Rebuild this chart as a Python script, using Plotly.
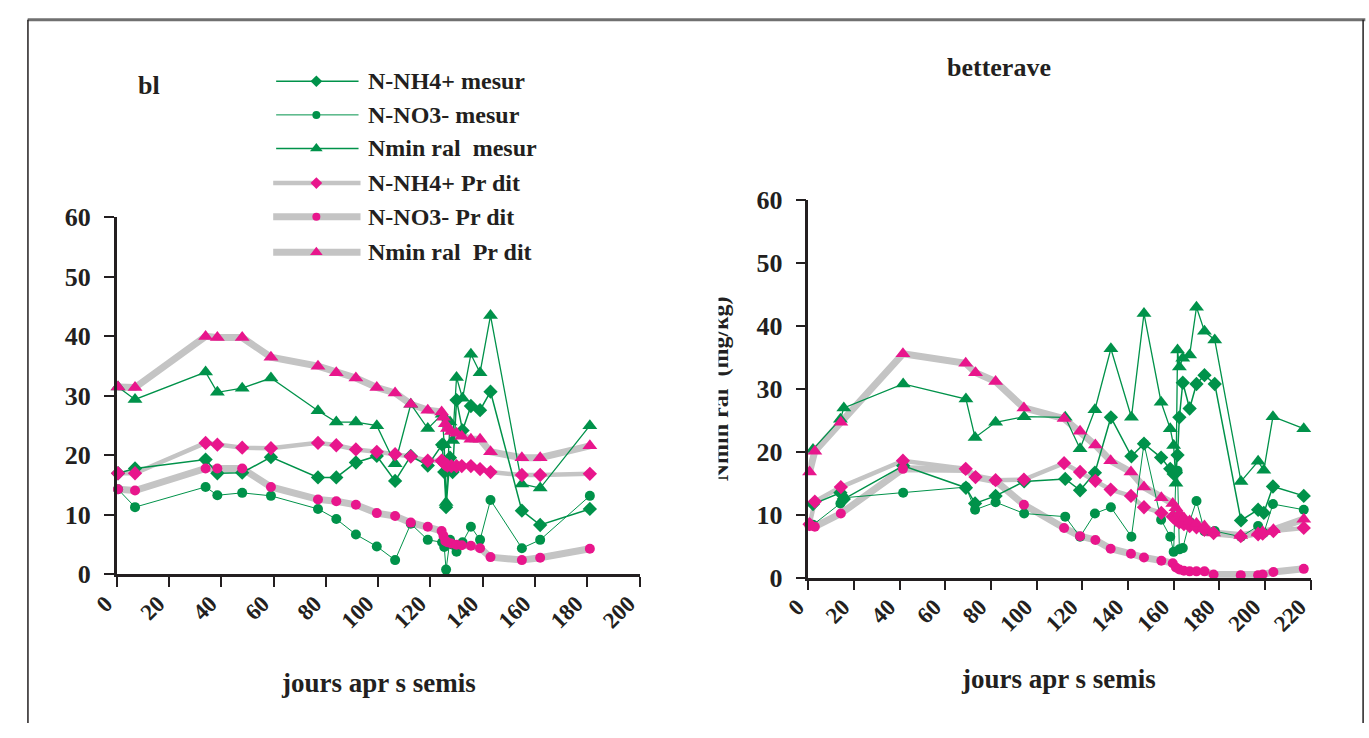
import plotly.graph_objects as go

W, H = 1369, 738

GREEN = "#00924A"
PINK = "#E8168C"
GRAY = "#C4C4C4"
INK = "#231F20"
SERIF = "Liberation Serif, Times New Roman, serif"

# ---------------- blé ----------------
bl_days_meas = [0.5, 7, 34, 38.5, 48, 59, 77, 84, 91.5, 99.5, 106.5, 112.5, 119,
                124.5, 125.3, 126, 127.5, 128.5, 130, 132.3, 135.5, 139, 143, 155, 162, 181]
bl_nh4_meas = [17, 17.8, 19.3, 17, 17.1, 19.7, 16.3, 16.3, 18.8, 19.9, 15.7, 19.9, 18.3,
               21.8, 17.2, 11.3, 19.6, 17.2, 29.3, 24.2, 28.3, 27.6, 30.7, 10.7, 8.3, 11]
bl_no3_meas = [14.3, 11.3, 14.7, 13.3, 13.7, 13.2, 11, 9.3, 6.7, 4.7, 2.4, 8.5, 5.8,
               5.4, 4.6, 0.8, 5.8, 5, 3.8, 5.4, 8, 5.8, 12.5, 4.4, 5.8, 13.2]
bl_nmin_meas = [31.5, 29.4, 34, 30.6, 31.3, 33, 27.5, 25.6, 25.6, 25, 18.6, 28.6, 24.5,
                26.9, 21.8, 12.1, 25.6, 22.5, 33.1, 29.6, 37, 33.9, 43.5, 15.2, 14.5, 25]

bl_days_pred = [0.5, 7, 34, 38.5, 48, 59, 77, 84, 91.5, 99.5, 106.5, 112.5, 119,
                124.3, 125, 125.7, 126.5, 128, 130, 132, 135.5, 139, 143, 155, 162, 181]
bl_nh4_pred = [17, 17, 22.1, 21.8, 21.3, 21.2, 22.1, 21.7, 21, 20.6, 20.2, 19.8, 19.1,
               19.1, 18.8, 18.5, 18.3, 18.2, 18.2, 18.2, 18.2, 17.7, 17.2, 16.7, 16.7, 16.9]
bl_no3_pred = [14.3, 14.1, 17.8, 17.8, 17.8, 14.7, 12.6, 12.3, 11.7, 10.3, 9.8, 8.7, 8,
               7.3, 6.5, 5.6, 5.4, 5.2, 5, 4.9, 4.8, 4.4, 2.9, 2.4, 2.8, 4.3]
bl_nmin_pred = [31.5, 31.4, 40, 39.8, 39.8, 36.5, 35, 33.9, 33, 31.4, 30.5, 28.6, 27.6,
                27.3, 26.4, 25.3, 24.5, 24, 23.7, 23.2, 22.7, 22.7, 20.6, 19.6, 19.6, 21.6]

# ---------------- betterave ----------------
bet_days_meas = [2, 14, 15.5, 41.5, 69, 73, 82, 94.5, 112.5, 119, 125.5, 132.5, 141.5, 147,
                 154.5, 158.5, 160, 161, 161.7, 162.5, 164, 167, 170, 173.5, 178,
                 189.5, 197, 199.5, 203.5, 217]
bet_nh4_meas = [11.7, 13.5, 12.5, 17.8, 14.3, 11.8, 13, 15.3, 15.7, 13.9, 16.7, 25.5, 19.3, 21.3,
                19.1, 17.3, 16.5, 16.7, 19.5, 25.5, 31, 26.9, 30.8, 32.2, 30.8,
                9.1, 10.8, 10.3, 14.5, 13]
bet_no3_meas = [8.4, 11.8, 12.7, 13.5, 14.4, 10.8, 12, 10.2, 9.7, 6.5, 10.2, 11.2, 6.5, 21.3,
                9.2, 6.5, 4.1, 16.8, 17, 4.5, 4.7, 8.9, 12.2, 7.4, 7.4,
                6.5, 8.2, 7.1, 11.7, 10.8]
bet_nmin_meas = [20.4, 25.2, 27, 30.8, 28.4, 22.3, 24.7, 25.6, 25.5, 20.5, 26.7, 36.4, 25.5, 42,
                 27.9, 23.7, 21, 15, 36.2, 33.5, 34.9, 35.4, 43, 39.2, 37.8,
                 15.3, 18.5, 17.1, 25.6, 23.7]

bet_days_pred = [0.5, 2.8, 14.2, 41.4, 68.9, 73.2, 82, 94.4, 112, 119, 125.7, 132.4, 141.3, 147,
                 154.6, 159.6, 161, 162.5, 164.5, 167, 170, 173.5, 177.5, 189.4, 197, 199, 203.7, 217]
bet_nh4_pred = [8.5, 12.1, 14.4, 18.6, 17.3, 16, 15.5, 15.6, 18.2, 16.8, 15.4, 14, 13, 11.2,
                10.3, 9.7, 9.2, 8.8, 8.5, 8.2, 8, 7.6, 7.1, 6.6, 6.9, 7, 7.4, 7.9]
bet_no3_pred = [8.2, 8.1, 10.2, 17.3, 17.2, 16, 15.4, 11.6, 7.9, 6.6, 6, 4.6, 3.8, 3.2,
                2.7, 2.3, 1.6, 1.3, 1.1, 1, 1, 1, 0.5, 0.4, 0.4, 0.5, 0.9, 1.4]
bet_nmin_pred = [16.8, 20.1, 24.7, 35.6, 34.1, 32.6, 31.2, 27, 25.3, 23.3, 21.1, 18.6, 16.8, 14.4,
                 12.7, 11.8, 11.1, 10.2, 9.5, 9, 8.6, 8.2, 7.1, 6.7, 7.1, 7.3, 7.6, 9.3]

# series styles: (label, marker symbol, marker size, line width)
meas_styles = [("N-NH4+ mesur", "diamond", 11, 1.5),
               ("N-NO3- mesur", "circle", 10, 1.0),
               ("Nmin ral  mesur", "triangle-up", 13, 1.3)]
pred_styles = [("N-NH4+ Pr dit", "diamond", 11, 4.5),
               ("N-NO3- Pr dit", "circle", 10, 7),
               ("Nmin ral  Pr dit", "triangle-up", 13, 7)]

fig = go.Figure()


def add_panel(xa, ya, dm, meas, dp, pred):
    # simulated values: thick grey lines underneath
    for vals, (_, _, _, lw) in zip(pred, pred_styles):
        fig.add_trace(go.Scatter(x=dp, y=vals, mode="lines", xaxis=xa, yaxis=ya,
                                 line=dict(color=GRAY, width=lw), showlegend=False,
                                 hoverinfo="skip", cliponaxis=False))
    # measured values: thin green lines with markers
    for vals, (_, sym, size, lw) in zip(meas, meas_styles):
        fig.add_trace(go.Scatter(x=dm, y=vals, mode="lines+markers", xaxis=xa, yaxis=ya,
                                 line=dict(color=GREEN, width=lw),
                                 marker=dict(symbol=sym, size=size, color=GREEN),
                                 showlegend=False, hoverinfo="skip", cliponaxis=False))
    # simulated markers on top
    for vals, (_, sym, size, _) in zip(pred, pred_styles):
        fig.add_trace(go.Scatter(x=dp, y=vals, mode="markers", xaxis=xa, yaxis=ya,
                                 marker=dict(symbol=sym, size=size, color=PINK),
                                 showlegend=False, hoverinfo="skip", cliponaxis=False))


add_panel("x", "y", bl_days_meas, [bl_nh4_meas, bl_no3_meas, bl_nmin_meas],
          bl_days_pred, [bl_nh4_pred, bl_no3_pred, bl_nmin_pred])
add_panel("x2", "y2", bet_days_meas, [bet_nh4_meas, bet_no3_meas, bet_nmin_meas],
          bet_days_pred, [bet_nh4_pred, bet_no3_pred, bet_nmin_pred])


def px(x):
    return x / W


def py(y):
    return 1 - y / H


# legend: small pixel-space axis covering only the legend block
LX0, LX1, LY0, LY1 = 230, 360, 50, 270
leg_rows = [70, 105, 140, 176, 211, 248]
leg_items = [(lbl, sym, size, lw, GREEN, GREEN, (256, 340)) for (lbl, sym, size, lw) in meas_styles] + \
            [(lbl, sym, size, lw, GRAY, PINK, (253, 342)) for (lbl, sym, size, lw) in pred_styles]
annotations = []
for yrow, (lbl, sym, size, lw, lc, mc, (xa0, xa1)) in zip(leg_rows, leg_items):
    fig.add_trace(go.Scatter(x=[xa0, xa1], y=[yrow, yrow], mode="lines", xaxis="x3", yaxis="y3",
                             line=dict(color=lc, width=lw), showlegend=False, hoverinfo="skip"))
    fig.add_trace(go.Scatter(x=[297], y=[yrow], mode="markers", xaxis="x3", yaxis="y3",
                             marker=dict(symbol=sym, size=size - 2, color=mc),
                             showlegend=False, hoverinfo="skip"))
    annotations.append(dict(x=px(348), y=py(yrow), text=lbl, xanchor="left",
                            font=dict(family=SERIF, size=24, color=INK, weight="bold")))

title_font = dict(family=SERIF, size=26, color=INK, weight="bold")
axis_title_font = dict(family=SERIF, size=27, color=INK, weight="bold")
annotations += [
    dict(x=px(126), y=py(74), text="bl", font=title_font),
    dict(x=px(993), y=py(56), text="betterave", font=title_font),
    dict(x=px(360), y=py(696), text="jours apr s semis", font=axis_title_font),
    dict(x=px(1053), y=py(692), text="jours apr s semis", font=axis_title_font),
    dict(x=px(708), y=py(390), text="Nmin ral  (mg/kg)", textangle=-90,
         font=dict(family=SERIF, size=24, color=INK, weight="bold")),
    # white band that masks the left half of the rotated label
    dict(x=px(697), y=py(390), text=" ", width=18, height=250, bgcolor="white", borderpad=0),
]
for a in annotations:
    a.setdefault("xanchor", "center")
    a.setdefault("yanchor", "middle")
    a["xref"] = "paper"
    a["yref"] = "paper"
    a["showarrow"] = False


def xaxis_cfg(p0, p1, rng):
    return dict(domain=[px(p0), px(p1)], range=rng, dtick=20, tick0=0, ticks="outside",
                ticklen=10, tickwidth=2, tickcolor=INK, showline=True, linecolor=INK,
                linewidth=2.5, tickangle=-45,
                tickfont=dict(family=SERIF, size=23, color=INK, weight="bold"),
                ticklabelstandoff=-6, ticklabelshift=-11,
                showgrid=False, zeroline=False, fixedrange=True)


def yaxis_cfg(p_bottom, p_top):
    return dict(domain=[py(p_bottom), py(p_top)], range=[0, 60], dtick=10, ticks="outside",
                ticklen=10, tickwidth=2, tickcolor=INK, showline=True, linecolor=INK,
                linewidth=2.5, tickfont=dict(family=SERIF, size=26, color=INK, weight="bold"),
                showgrid=False, zeroline=False, fixedrange=True, ticklabelstandoff=8)


fig.update_layout(
    width=W, height=H,
    margin=dict(l=0, r=0, t=0, b=0),
    paper_bgcolor="white", plot_bgcolor="rgba(0,0,0,0)",
    showlegend=False, hovermode=False, dragmode=False,
    xaxis=xaxis_cfg(93.5, 626.4, [0, 200]) | dict(anchor="y"),
    yaxis=yaxis_cfg(583.3, 211.7) | dict(anchor="x"),
    xaxis2=xaxis_cfg(798.6, 1310.5, [0, 220]) | dict(anchor="y2"),
    yaxis2=yaxis_cfg(586.7, 194) | dict(anchor="x2"),
    xaxis3=dict(domain=[px(LX0), px(LX1)], range=[LX0, LX1], visible=False, anchor="y3",
                fixedrange=True),
    yaxis3=dict(domain=[py(LY1), py(LY0)], range=[LY1, LY0], visible=False, anchor="x3",
                fixedrange=True),
    annotations=annotations,
    shapes=[
        dict(type="line", xref="paper", yref="paper", x0=0.002, x1=0.998,
             y0=py(6), y1=py(6), line=dict(color="#707070", width=3)),
        dict(type="line", xref="paper", yref="paper", x0=px(3), x1=px(3),
             y0=0, y1=py(6), line=dict(color=INK, width=1.5)),
        dict(type="line", xref="paper", yref="paper", x0=px(1364), x1=px(1364),
             y0=0, y1=py(6), line=dict(color=INK, width=1.5)),
    ],
)

fig.write_html("out.html")
